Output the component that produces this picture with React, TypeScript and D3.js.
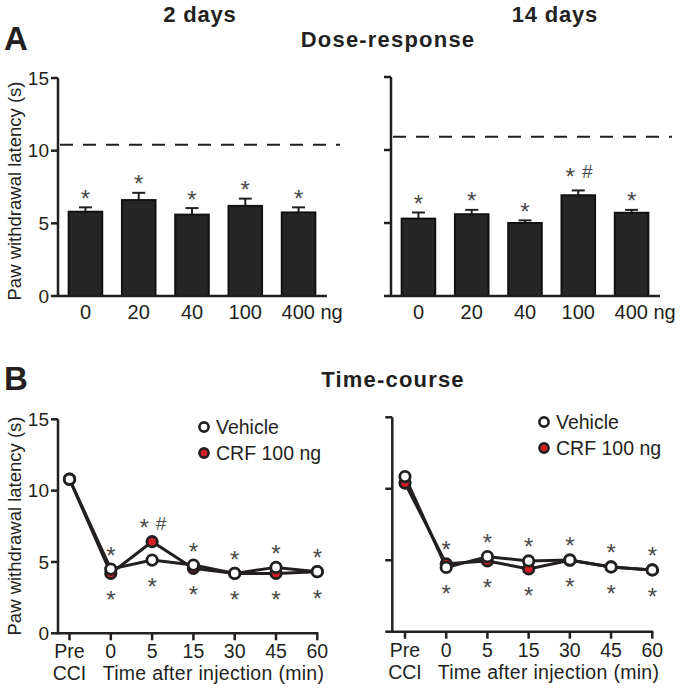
import React from "react";
import * as d3 from "d3";

const doses = ["0", "20", "40", "100", "400"];
const day2Mean = [5.8, 6.6, 5.6, 6.2, 5.75];
const day2Sem = [0.3, 0.5, 0.45, 0.5, 0.35];
const day2Marks = ["*", "*", "*", "*", "*"];
const day2Baseline = 10.4;
const day14Mean = [5.3, 5.6, 5.0, 6.9, 5.7];
const day14Sem = [0.42, 0.3, 0.18, 0.33, 0.2];
const day14Marks = ["*", "*", "*", "* #", "*"];
const day14Baseline = 10.9;

const timeLabels = ["Pre", "0", "5", "15", "30", "45", "60"];
const leftVehicle = [10.8, 4.5, 5.13, 4.78, 4.2, 4.62, 4.32];
const leftCRF = [10.8, 4.2, 6.42, 4.55, 4.2, 4.2, 4.32];
const leftAbove = ["", "*", "* #", "*", "*", "*", "*"];
const leftBelow = ["", "*", "*", "*", "*", "*", "*"];
const rightVehicle = [10.85, 4.5, 5.25, 4.95, 5.02, 4.53, 4.32];
const rightCRF = [10.4, 4.75, 4.95, 4.39, 5.0, 4.53, 4.32];
const rightAbove = ["", "*", "*", "*", "*", "*", "*"];
const rightBelow = ["", "*", "*", "*", "*", "*", "*"];

const yTicks = [0, 5, 10, 15];
const FONT = "'Liberation Sans', Arial, Helvetica, sans-serif";
const INK = "#231f20";
const RED = "#d71f26";
const STAR = "#4a4a4a";
const STAR_SIZE = 24;
const STAR_DY = 13.5;

function Star({ x, cy, text }: any) {
  if (!text) return null;
  if (text === "* #") {
    return (
      <g>
        <text x={x - 8} y={cy + STAR_DY} textAnchor="middle" fontSize={STAR_SIZE} fill={STAR}>*</text>
        <text x={x + 9} y={cy + 7} textAnchor="middle" fontSize={19} fill={STAR}>#</text>
      </g>
    );
  }
  return <text x={x} y={cy + STAR_DY} textAnchor="middle" fontSize={STAR_SIZE} fill={STAR}>{text}</text>;
}

function BarPanel({ axisX, x0, x1, y0, y1, means, sems, marks, baseline, dashEnd, showLabels }: any) {
  const y = d3.scaleLinear().domain([0, 15]).range([y0, y1]);
  const x = d3.scaleBand().domain(doses).range([x0, x1]).paddingInner(0.37).paddingOuter(0.2);
  const bw = x.bandwidth();
  return (
    <g>
      <line x1={axisX + 2} x2={dashEnd} y1={y(baseline)} y2={y(baseline)} stroke={INK} strokeWidth={2} strokeDasharray="13,10" />
      {means.map((m: number, i: number) => {
        const cx = (x(doses[i]) as number) + bw / 2;
        const top = y(m + sems[i]);
        return (
          <g key={i}>
            <line x1={cx} x2={cx} y1={y(m)} y2={top} stroke={INK} strokeWidth={2} />
            <line x1={cx - 6.5} x2={cx + 6.5} y1={top} y2={top} stroke={INK} strokeWidth={2} />
            <rect x={x(doses[i])} y={y(m)} width={bw} height={y(0) - y(m)} fill="#262626" stroke="#111" strokeWidth={2} />
            <Star x={cx} cy={top - (marks[i] === "* #" ? 19 : 14)} text={marks[i]} />
            {i < doses.length - 1 ? (
              <text x={cx} y={y(0) + 23} textAnchor="middle" fontSize={20} fill={INK}>{doses[i]}</text>
            ) : (
              <text x={cx - 17} y={y(0) + 23} textAnchor="start" fontSize={20} fill={INK}>{doses[i] + " ng"}</text>
            )}
          </g>
        );
      })}
      <line x1={axisX} x2={axisX} y1={y(15)} y2={y(0) + 1} stroke={INK} strokeWidth={2.5} />
      <line x1={axisX} x2={x1 + 1} y1={y(0)} y2={y(0)} stroke={INK} strokeWidth={2.5} />
      {yTicks.map((t) => (
        <g key={t}>
          <line x1={axisX - 7} x2={axisX} y1={y(t)} y2={y(t)} stroke={INK} strokeWidth={2.5} />
          {showLabels && (
            <text x={axisX - 9} y={y(t) + 6.8} textAnchor="end" fontSize={19} fill={INK}>{t}</text>
          )}
        </g>
      ))}
    </g>
  );
}

function TimePanel({ axisX, xFirst, xLast, y0, y1, vehicle, crf, above, below, showLabels, legendX, legendY }: any) {
  const y = d3.scaleLinear().domain([0, 15]).range([y0, y1]);
  const x = d3.scalePoint().domain(timeLabels).range([xFirst, xLast]);
  const line = d3.line<number>().x((_, i) => x(timeLabels[i]) as number).y((v) => y(v));
  return (
    <g>
      <path d={line(crf) as string} fill="none" stroke={INK} strokeWidth={3} />
      <path d={line(vehicle) as string} fill="none" stroke={INK} strokeWidth={3} />
      {crf.map((v: number, i: number) => (
        <circle key={"c" + i} cx={x(timeLabels[i])} cy={y(v)} r={5.2} fill={RED} stroke={INK} strokeWidth={2.8} />
      ))}
      {vehicle.map((v: number, i: number) => (
        <circle key={"v" + i} cx={x(timeLabels[i])} cy={y(v)} r={5.2} fill="#fff" stroke={INK} strokeWidth={2.8} />
      ))}
      {timeLabels.map((t, i) => {
        const cx = x(t) as number;
        const hi = Math.max(vehicle[i], crf[i]);
        const lo = Math.min(vehicle[i], crf[i]);
        return (
          <g key={t}>
            <Star x={cx} cy={y(hi) - 19} text={above[i]} />
            <Star x={cx} cy={y(lo) + 21.5} text={below[i]} />
            <line x1={cx} x2={cx} y1={y(0)} y2={y(0) + 7} stroke={INK} strokeWidth={2.5} />
            <text x={cx} y={y(0) + 25} textAnchor="middle" fontSize={19.5} fill={INK}>{t}</text>
          </g>
        );
      })}
      <text x={xFirst} y={y(0) + 47} textAnchor="middle" fontSize={19.5} fill={INK}>CCI</text>
      <text x={xLast + 7} y={y(0) + 47} textAnchor="end" fontSize={19.5} letterSpacing={0.3} fill={INK}>Time after injection (min)</text>
      <line x1={axisX} x2={axisX} y1={y(15)} y2={y(0) + 1} stroke={INK} strokeWidth={2.5} />
      <line x1={axisX} x2={xLast + 1} y1={y(0)} y2={y(0)} stroke={INK} strokeWidth={2.5} />
      {yTicks.map((t) => (
        <g key={t}>
          <line x1={axisX - 7} x2={axisX} y1={y(t)} y2={y(t)} stroke={INK} strokeWidth={2.5} />
          {showLabels && (
            <text x={axisX - 9} y={y(t) + 6.8} textAnchor="end" fontSize={19} fill={INK}>{t}</text>
          )}
        </g>
      ))}
      <circle cx={legendX} cy={legendY} r={4.6} fill="#fff" stroke={INK} strokeWidth={2.6} />
      <text x={legendX + 12} y={legendY + 7} fontSize={19.5} fill={INK}>Vehicle</text>
      <circle cx={legendX} cy={legendY + 26} r={4.6} fill={RED} stroke={INK} strokeWidth={2.6} />
      <text x={legendX + 12} y={legendY + 26 + 7} fontSize={19.5} fill={INK}>CRF 100 ng</text>
    </g>
  );
}

export default function App() {
  return (
    <svg width={685} height={689} style={{ position: "absolute", left: 0, top: 0, background: "#fff" }} fontFamily={FONT}>
      <rect width={685} height={689} fill="#fff" />
      <text x={4} y={50} fontSize={33} fontWeight="bold" fill={INK}>A</text>
      <text x={200} y={22} textAnchor="middle" fontSize={22} letterSpacing={0.8} fontWeight="bold" fill={INK}>2 days</text>
      <text x={555} y={22} textAnchor="middle" fontSize={22} letterSpacing={0.8} fontWeight="bold" fill={INK}>14 days</text>
      <text x={388} y={47} textAnchor="middle" fontSize={22} letterSpacing={1.2} fontWeight="bold" fill={INK}>Dose-response</text>
      <text transform="translate(21,191) rotate(-90)" textAnchor="middle" fontSize={18.5} fill={INK}>Paw withdrawal latency (s)</text>

      <BarPanel axisX={58} x0={58} x1={326} y0={296} y1={78} means={day2Mean} sems={day2Sem} marks={day2Marks} baseline={day2Baseline} dashEnd={340} showLabels={true} />
      <BarPanel axisX={391} x0={391} x1={659} y0={296} y1={77} means={day14Mean} sems={day14Sem} marks={day14Marks} baseline={day14Baseline} dashEnd={672} showLabels={false} />

      <text x={4} y={390} fontSize={33} fontWeight="bold" fill={INK}>B</text>
      <text x={393} y={387} textAnchor="middle" fontSize={22} letterSpacing={1.2} fontWeight="bold" fill={INK}>Time-course</text>
      <text transform="translate(21,526) rotate(-90)" textAnchor="middle" fontSize={18.5} fill={INK}>Paw withdrawal latency (s)</text>

      <TimePanel axisX={58} xFirst={69.5} xLast={317.3} y0={633.3} y1={419.3} vehicle={leftVehicle} crf={leftCRF} above={leftAbove} below={leftBelow} showLabels={true} legendX={204} legendY={427} />
      <TimePanel axisX={392.3} xFirst={405} xLast={652.3} y0={631.7} y1={417.3} vehicle={rightVehicle} crf={rightCRF} above={rightAbove} below={rightBelow} showLabels={false} legendX={544} legendY={422} />
    </svg>
  );
}
